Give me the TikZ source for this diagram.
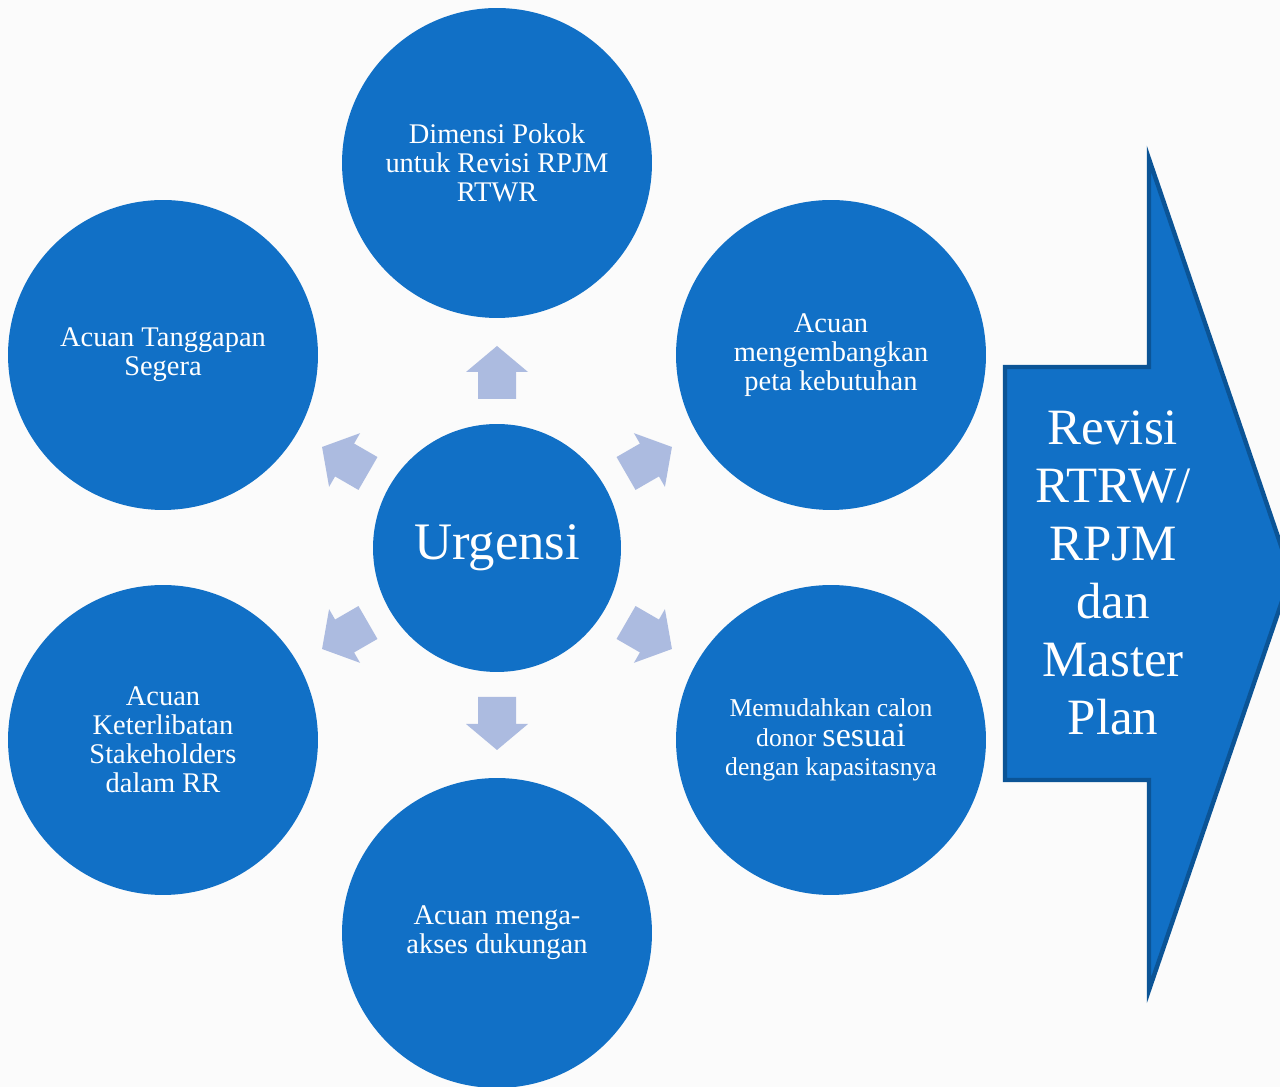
\documentclass[tikz,border=0pt]{standalone}
\usepackage{fontspec}
\setmainfont{Liberation Serif}
\definecolor{circblue}{HTML}{1170C6}
\definecolor{arrowblue}{HTML}{ACBBE0}
\definecolor{edgeblue}{HTML}{0B5496}
\definecolor{bgwhite}{HTML}{FBFBFB}
\tikzset{
  bubble/.style={circle, fill=circblue, text=white, minimum size=6.2cm, inner sep=0pt,
    align=center, font=\fontsize{16.2}{16.6}\selectfont},
  hub/.style={circle, fill=circblue, text=white, minimum size=4.96cm, inner sep=0pt,
    font=\fontsize{30}{36}\selectfont},
  pointer/.style={fill=arrowblue},
  bigarrow/.style={fill=circblue, draw=edgeblue, line width=2.5pt, line join=miter}
}
\begin{document}
\begin{tikzpicture}[x=0.02cm, y=0.02cm]
    % Background
    \fill[bgwhite] (0,0) rectangle (1280,1087);
    \clip (0,0) rectangle (1280,1087);

    % Centre node
    \node[hub] (urg) at (497, 539) {Urgensi};

    % Nodes around the centre
    \node[bubble] (top) at (497, 924) {Dimensi Pokok\\untuk Revisi RPJM\\RTWR};
    \node[bubble] (ur) at (831, 732) {Acuan\\mengembangkan\\peta kebutuhan};
    \node[bubble, font=\fontsize{14.6}{17}\selectfont] (lr) at (831, 347)
        {Memudahkan calon\\donor {\fontsize{19.4}{17}\selectfont sesuai}\\dengan kapasitasnya};
    \node[bubble] (bot) at (497, 154) {Acuan menga-\\akses dukungan};
    \node[bubble] (ll) at (163, 347) {Acuan\\Keterlibatan\\Stakeholders\\dalam RR};
    \node[bubble] (ul) at (163, 732) {Acuan Tanggapan\\Segera};

    % Block arrows pointing outwards
    \foreach \a in {90, 30, -30, -90, -150, 150}
        \fill[pointer, shift={(urg.center)}, rotate=\a]
            (149,-19) -- (176,-19) -- (176,-31) -- (202,0) -- (176,31) -- (176,19) -- (149,19) -- cycle;

    % Result arrow
    \draw[bigarrow] (1005,720) -- (1149,720) -- (1149,928) -- (1291,512)
        -- (1149,97) -- (1149,307) -- (1005,307) -- cycle;
    \node[text=white, align=center, font=\fontsize{29}{33}\selectfont] (plan) at (1113, 514)
        {Revisi\\RTRW/\\RPJM\\dan\\Master\\Plan};
\end{tikzpicture}
\end{document}
